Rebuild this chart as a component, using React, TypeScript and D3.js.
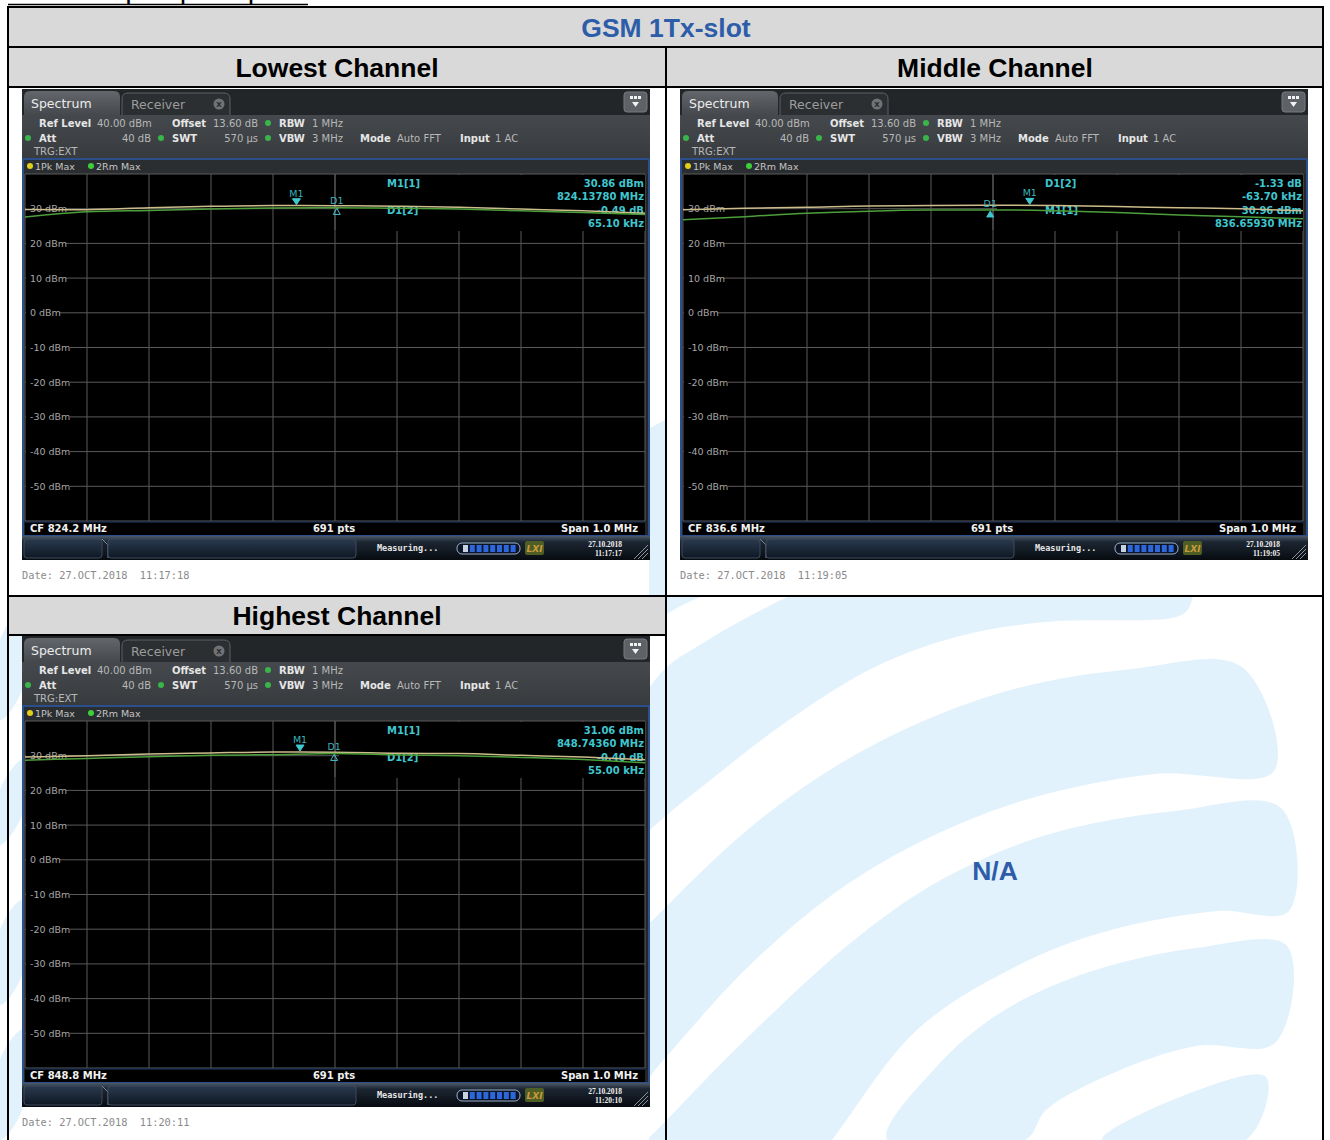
import * as d3 from 'd3';

// trace readings, dBm, at every vertical grid line (offset from centre frequency, kHz)
const FREQ_OFFSET_KHZ = [-500, -400, -300, -200, -100, 0, 100, 200, 300, 400, 500];

const LOWEST_PK = [29.8, 29.7, 30.3, 30.7, 30.9, 30.85, 30.7, 30.4, 29.9, 29.4, 28.7];
const LOWEST_RM = [27.6, 29.1, 29.5, 29.9, 30.2, 30.3, 30.1, 29.9, 29.4, 28.9, 28.3];
const MIDDLE_PK = [29.7, 30.1, 30.4, 30.8, 30.9, 31.0, 30.9, 30.6, 30.3, 30.0, 29.4];
const MIDDLE_RM = [26.8, 27.7, 28.7, 29.3, 29.6, 29.65, 29.4, 28.9, 28.2, 27.7, 27.1];
const HIGHEST_PK = [29.6, 30.0, 30.5, 30.8, 31.05, 31.0, 30.7, 30.6, 30.1, 29.6, 28.8];
const HIGHEST_RM = [28.7, 29.2, 29.7, 30.1, 30.3, 30.6, 30.2, 30.0, 29.5, 28.9, 28.0];

const LEVEL_LABELS = [30, 20, 10, 0, -10, -20, -30, -40, -50];

const UI = "'DejaVu Sans', sans-serif";
const DOC = "'Liberation Sans', Arial, sans-serif";
const CYAN = '#3fc6cf';
const WATERMARK = '#e2f2fc';

// plot rectangle inside one screenshot (origin = screenshot top-left)
const PLOT = { x0: 3, x1: 623, y0: 85, y1: 432 };

type Marker = { name: string; offset: number; level: number; dir: 'down' | 'up'; filled: boolean };
type Row = { label: string; value: string };

const LOWEST_MARKERS: Marker[] = [
  { name: 'M1', offset: -62.2, level: 30.86, dir: 'down', filled: true },
  { name: 'D1', offset: 2.9, level: 30.37, dir: 'up', filled: false },
];
const MIDDLE_MARKERS: Marker[] = [
  { name: 'M1', offset: 59.3, level: 30.96, dir: 'down', filled: true },
  { name: 'D1', offset: -4.4, level: 29.63, dir: 'up', filled: true },
];
const HIGHEST_MARKERS: Marker[] = [
  { name: 'M1', offset: -56.4, level: 31.06, dir: 'down', filled: true },
  { name: 'D1', offset: -1.4, level: 30.66, dir: 'up', filled: false },
];

const LOWEST_TABLE: Row[] = [
  { label: 'M1[1]', value: '30.86 dBm' },
  { label: '', value: '824.13780 MHz' },
  { label: 'D1[2]', value: '-0.49 dB' },
  { label: '', value: '65.10 kHz' },
];
const MIDDLE_TABLE: Row[] = [
  { label: 'D1[2]', value: '-1.33 dB' },
  { label: '', value: '-63.70 kHz' },
  { label: 'M1[1]', value: '30.96 dBm' },
  { label: '', value: '836.65930 MHz' },
];
const HIGHEST_TABLE: Row[] = [
  { label: 'M1[1]', value: '31.06 dBm' },
  { label: '', value: '848.74360 MHz' },
  { label: 'D1[2]', value: '-0.40 dB' },
  { label: '', value: '55.00 kHz' },
];

// watermark bands (page decoration), clipped to the right half
const BANDS: [number, number][][] = [
  [[600, 470], [700, 400], [790, 330], [830, 560], [703, 596], [660, 618], [600, 660]],
  [[540, 900], [600, 780], [660, 674], [703, 643], [789, 596], [850, 570], [1192, 570], [1192, 600], [1186, 612], [1172, 618], [1046, 622], [960, 636], [875, 667], [789, 720], [703, 786], [660, 821], [600, 880], [560, 940]],
  [[600, 980], [660, 913], [767, 814], [875, 744], [1003, 692], [1132, 669], [1242, 667], [1274, 771], [1154, 774], [1025, 800], [918, 843], [832, 895], [746, 969], [660, 1064], [620, 1110]],
  [[600, 1190], [660, 1127], [746, 1039], [853, 941], [939, 881], [1046, 835], [1175, 811], [1281, 808], [1289, 911], [1218, 911], [1111, 930], [1025, 962], [918, 1029], [832, 1140], [800, 1180]],
  [[887, 1140], [939, 1064], [1003, 1011], [1089, 972], [1196, 948], [1287, 946], [1275, 1043], [1196, 1046], [1111, 1074], [1046, 1110], [1025, 1140]],
  [[1102, 1140], [1175, 1099], [1266, 1077], [1246, 1140]],
];
// watermark slivers showing in the left margin
const EDGE_BANDS: [number, number][][] = [
  [[0, 640], [22, 610], [22, 690], [0, 720]],
  [[0, 790], [22, 760], [22, 815], [0, 845]],
  [[0, 930], [22, 900], [22, 975], [0, 1005]],
  [[0, 1060], [22, 1030], [22, 1110], [0, 1140]],
];

function SpectrumPanel(props: {
  ox: number; oy: number; id: string; cf: string; pk: number[]; rm: number[];
  markers: Marker[]; table: Row[]; stampDate: string; stampTime: string; dateLine: string;
}) {
  const { ox, oy, id, cf, pk, rm, markers, table } = props;
  const x = d3.scaleLinear().domain([-500, 500]).range([PLOT.x0, PLOT.x1]);
  const y = d3.scaleLinear().domain([-60, 40]).range([PLOT.y1, PLOT.y0]);
  const trace = d3.line<number>()
    .x((_, i) => x(FREQ_OFFSET_KHZ[i]))
    .y(d => y(d))
    .curve(d3.curveMonotoneX);

  const tableX = x(0) + 4;
  const tableH = 56;

  const dot = (cx: number, cy: number, fill: string) => (
    <circle cx={cx} cy={cy} r={3} fill={fill} />
  );

  return (
    <g transform={`translate(${ox},${oy})`} fontFamily={UI}>
      <defs>
        <linearGradient id={`tab-${id}`} x1="0" y1="0" x2="0" y2="1">
          <stop offset="0" stopColor="#63676b" />
          <stop offset="1" stopColor="#45494d" />
        </linearGradient>
        <linearGradient id={`head-${id}`} x1="0" y1="0" x2="0" y2="1">
          <stop offset="0" stopColor="#45494d" />
          <stop offset="1" stopColor="#383b3e" />
        </linearGradient>
        <linearGradient id={`bar-${id}`} x1="0" y1="0" x2="0" y2="1">
          <stop offset="0" stopColor="#4c5968" />
          <stop offset="0.25" stopColor="#1c2632" />
          <stop offset="1" stopColor="#070b10" />
        </linearGradient>
        <linearGradient id={`box-${id}`} x1="0" y1="0" x2="0" y2="1">
          <stop offset="0" stopColor="#2a3a4e" />
          <stop offset="1" stopColor="#0f1824" />
        </linearGradient>
        <clipPath id={`plot-${id}`}>
          <rect x={PLOT.x0} y={PLOT.y0} width={PLOT.x1 - PLOT.x0} height={PLOT.y1 - PLOT.y0} />
        </clipPath>
      </defs>

      {/* tab strip */}
      <rect x={0} y={0} width={628} height={447} fill="#232629" />
      <rect x={0} y={26} width={628} height={43} fill={`url(#head-${id})`} />
      <path d="M2,26 V8 Q2,2 8,2 H92 Q98,2 98,8 V26 Z" fill={`url(#tab-${id})`} />
      <path d="M100,26 V10 Q100,4 106,4 H202 Q208,4 208,10 V26" fill="#2c2f32" stroke="#5d6064" />
      <text x={9} y={19} fontSize={12.5} fill="#ececec">Spectrum</text>
      <text x={109} y={20} fontSize={12.5} fill="#9c9c9c">Receiver</text>
      <circle cx={197} cy={15} r={5.5} fill="#6f7276" />
      <text x={197} y={18} fontSize={7} fontWeight="bold" textAnchor="middle" fill="#2a2a2a">X</text>
      <rect x={602} y={3} width={23} height={20} rx={3} fill="#5e6266" stroke="#777b80" />
      {[0, 1, 2].map(i => (
        <rect key={`d${i}`} x={608 + i * 4} y={7} width={3} height={3} fill="#f2f2f2" />
      ))}
      <path d="M610,13 L617,13 L613.5,18 Z" fill="#f2f2f2" />

      {/* settings */}
      <g fontSize={10}>
        <text x={17} y={37.5} fill="#e6e6e6" fontWeight="bold">Ref Level</text>
        <text x={75} y={37.5} fill="#b8b8b8">40.00 dBm</text>
        <text x={150} y={37.5} fill="#e6e6e6" fontWeight="bold">Offset</text>
        <text x={191} y={37.5} fill="#b8b8b8">13.60 dB</text>
        {dot(246, 34, '#39b54a')}
        <text x={257} y={37.5} fill="#e6e6e6" fontWeight="bold">RBW</text>
        <text x={290} y={37.5} fill="#b8b8b8">1 MHz</text>

        {dot(6, 49, '#39b54a')}
        <text x={17} y={52.5} fill="#e6e6e6" fontWeight="bold">Att</text>
        <text x={129} y={52.5} fill="#b8b8b8" textAnchor="end">40 dB</text>
        {dot(139, 49, '#39b54a')}
        <text x={150} y={52.5} fill="#e6e6e6" fontWeight="bold">SWT</text>
        <text x={236} y={52.5} fill="#b8b8b8" textAnchor="end">570 µs</text>
        {dot(246, 49, '#39b54a')}
        <text x={257} y={52.5} fill="#e6e6e6" fontWeight="bold">VBW</text>
        <text x={290} y={52.5} fill="#b8b8b8">3 MHz</text>
        <text x={338} y={52.5} fill="#e6e6e6" fontWeight="bold">Mode</text>
        <text x={375} y={52.5} fill="#b8b8b8">Auto FFT</text>
        <text x={438} y={52.5} fill="#e6e6e6" fontWeight="bold">Input</text>
        <text x={473} y={52.5} fill="#b8b8b8">1 AC</text>

        <text x={12} y={65.5} fill="#b8b8b8">TRG:EXT</text>
      </g>

      {/* trace legend */}
      <rect x={1} y={70} width={626} height={15} fill="#2b2e31" />
      {dot(8, 77, '#e2cf1c')}
      <text x={13} y={80.5} fontSize={9.5} fill="#c4c4c4">1Pk Max</text>
      {dot(69, 77, '#3ccf3c')}
      <text x={74} y={80.5} fontSize={9.5} fill="#c4c4c4">2Rm Max</text>

      {/* diagram */}
      <rect x={PLOT.x0} y={PLOT.y0} width={PLOT.x1 - PLOT.x0} height={PLOT.y1 - PLOT.y0 + 15} fill="#000" />
      {y.ticks(10).map(t => (
        <line key={`h${t}`} x1={PLOT.x0} x2={PLOT.x1} y1={y(t)} y2={y(t)} stroke="#5a5a5a" />
      ))}
      {x.ticks(10).map(t => (
        <line key={`v${t}`} x1={x(t)} x2={x(t)} y1={PLOT.y0} y2={PLOT.y1} stroke="#5a5a5a" />
      ))}
      <rect x={tableX} y={PLOT.y0 + 1} width={PLOT.x1 - tableX} height={tableH} fill="#000" />
      <line x1={x(0)} x2={x(0)} y1={PLOT.y0} y2={PLOT.y0 + tableH} stroke="#5a5a5a" />
      {LEVEL_LABELS.map(t => (
        <g key={`l${t}`}>
          <rect x={PLOT.x0 + 1} y={y(t) - 5} width={t < 0 ? 44 : t === 0 ? 33 : 39} height={10} fill="#000" />
          <text x={8} y={y(t) + 3.5} fontSize={9.5} fill="#a6a6a6">{`${t} dBm`}</text>
        </g>
      ))}
      <g fontSize={10} fontWeight="bold" fill={CYAN}>
        {table.map((r, i) => (
          <g key={`r${i}`}>
            {r.label && <text x={365} y={PLOT.y0 + 12.5 + i * 13.5}>{r.label}</text>}
            <text x={622} y={PLOT.y0 + 12.5 + i * 13.5} textAnchor="end">{r.value}</text>
          </g>
        ))}
      </g>
      <g clipPath={`url(#plot-${id})`}>
        <path d={trace(pk) ?? ''} fill="none" stroke="#cdbd8c" strokeWidth={1.5} />
        <path d={trace(rm) ?? ''} fill="none" stroke="#4c9f3a" strokeWidth={1.5} />
      </g>
      {markers.map(m => {
        const mx = x(m.offset);
        const my = y(m.level);
        const tri = m.dir === 'down'
          ? `M${mx - 4},${my - 7} L${mx + 4},${my - 7} L${mx},${my - 1} Z`
          : `M${mx - 3.5},${my + 7} L${mx + 3.5},${my + 7} L${mx},${my + 1} Z`;
        return (
          <g key={m.name}>
            <path d={tri} fill={m.filled ? CYAN : 'none'} stroke={CYAN} strokeWidth={1} />
            <text x={mx} y={m.dir === 'down' ? my - 9 : my - 3} fontSize={9.5} textAnchor="middle" fill="#3bb3bb">{m.name}</text>
          </g>
        );
      })}
      <line x1={PLOT.x0} x2={PLOT.x1} y1={PLOT.y1 + 1} y2={PLOT.y1 + 1} stroke="#1f3c6a" />
      <g fontSize={10} fontWeight="bold" fill="#f0f0f0">
        <text x={8} y={443}>{cf}</text>
        <text x={312} y={443} textAnchor="middle">691 pts</text>
        <text x={616} y={443} textAnchor="end">Span 1.0 MHz</text>
      </g>
      <rect x={1} y={70} width={626} height={377} fill="none" stroke="#2c4f8c" strokeWidth={2} />

      {/* status bar */}
      <rect x={0} y={447} width={628} height={24} fill={`url(#bar-${id})`} />
      <rect x={2} y={450} width={78} height={19} rx={3} fill={`url(#box-${id})`} stroke="#3c4b5d" />
      <path d="M80,450 L86,456 L86,469" fill="none" stroke="#7a8795" />
      <rect x={86} y={450} width={248} height={19} rx={3} fill={`url(#box-${id})`} stroke="#3c4b5d" />
      <text x={355} y={462} fontSize={8.5} fontWeight="bold" fontFamily="'DejaVu Sans Mono', monospace" fill="#e6e6e6">Measuring...</text>
      <rect x={435} y={454} width={63} height={11} rx={5} fill="#0c1526" stroke="#9bb0cc" />
      {d3.range(8).map(i => (
        <rect key={`p${i}`} x={441 + i * 6.8} y={456} width={5} height={7} fill={i === 0 ? '#c8d2e0' : '#2c68dc'} />
      ))}
      <rect x={503} y={452} width={19} height={14} rx={2} fill="#4e5e25" />
      <text x={512.5} y={463} fontSize={9} fontWeight="bold" fontStyle="italic" textAnchor="middle" fill="#c99a3a">LXI</text>
      <g fontSize={7.5} fontWeight="bold" fontFamily="'Liberation Serif', serif" fill="#f0f0f0" textAnchor="end">
        <text x={600} y={458}>{props.stampDate}</text>
        <text x={600} y={466.5}>{props.stampTime}</text>
      </g>
      {[0, 4, 8].map(d => (
        <line key={`g${d}`} x1={612 + d} y1={470} x2={626} y2={456 + d} stroke="#8d949b" />
      ))}

      <text x={0} y={490} fontSize={10.3} fontFamily="'DejaVu Sans Mono', monospace" fill="#8a8a8a"
        style={{ whiteSpace: 'pre' }}>{props.dateLine}</text>
    </g>
  );
}

export default function App() {
  const band = d3.line().curve(d3.curveCatmullRomClosed.alpha(0.5));
  return (
    <svg width={1330} height={1140} style={{ position: 'absolute', left: 0, top: 0, background: '#fff' }}>
      <defs>
        <clipPath id="wm-clip">
          <rect x={649} y={0} width={681} height={1140} />
        </clipPath>
      </defs>
      <g clipPath="url(#wm-clip)">
        {BANDS.map((b, i) => (
          <path key={`b${i}`} d={band(b) ?? ''} fill={WATERMARK} />
        ))}
      </g>
      {EDGE_BANDS.map((b, i) => (
        <path key={`e${i}`} d={band(b) ?? ''} fill={WATERMARK} />
      ))}
      <rect x={667} y={88} width={655} height={507} fill="#fff" />

      {/* heading above the table, mostly cut off */}
      <text x={10} y={0} fontSize={18} fontWeight="bold" fontFamily={DOC} fill="#000" textLength={296}>Conducted peak power plots:</text>
      <line x1={8} x2={308} y1={4.5} y2={4.5} stroke="#000" strokeWidth={1.5} />

      {/* table */}
      <g fontFamily={DOC} fontWeight="bold" fontSize={26.5} textAnchor="middle">
        <rect x={8} y={7} width={1315} height={40} fill="#d9d9d9" />
        <rect x={8} y={47} width={1315} height={40} fill="#d9d9d9" />
        <rect x={8} y={596} width={658} height={39} fill="#d9d9d9" />
        <text x={666} y={37} fill="#2d5ca8">GSM 1Tx-slot</text>
        <text x={337} y={77} fill="#000">Lowest Channel</text>
        <text x={995} y={77} fill="#000">Middle Channel</text>
        <text x={337} y={625} fill="#000">Highest Channel</text>
        <text x={995} y={880} fill="#2d5ca8">N/A</text>
      </g>
      <g stroke="#000" strokeWidth={2} fill="none">
        <rect x={8} y={7} width={1315} height={1140} />
        <line x1={8} x2={1323} y1={47} y2={47} />
        <line x1={8} x2={1323} y1={87} y2={87} />
        <line x1={8} x2={1323} y1={596} y2={596} />
        <line x1={8} x2={666} y1={635} y2={635} />
        <line x1={666} x2={666} y1={47} y2={1140} />
      </g>

      <SpectrumPanel ox={22} oy={89} id="low" cf="CF 824.2 MHz" pk={LOWEST_PK} rm={LOWEST_RM}
        markers={LOWEST_MARKERS} table={LOWEST_TABLE}
        stampDate="27.10.2018" stampTime="11:17:17" dateLine="Date: 27.OCT.2018  11:17:18" />
      <SpectrumPanel ox={680} oy={89} id="mid" cf="CF 836.6 MHz" pk={MIDDLE_PK} rm={MIDDLE_RM}
        markers={MIDDLE_MARKERS} table={MIDDLE_TABLE}
        stampDate="27.10.2018" stampTime="11:19:05" dateLine="Date: 27.OCT.2018  11:19:05" />
      <SpectrumPanel ox={22} oy={636} id="high" cf="CF 848.8 MHz" pk={HIGHEST_PK} rm={HIGHEST_RM}
        markers={HIGHEST_MARKERS} table={HIGHEST_TABLE}
        stampDate="27.10.2018" stampTime="11:20:10" dateLine="Date: 27.OCT.2018  11:20:11" />
    </svg>
  );
}
